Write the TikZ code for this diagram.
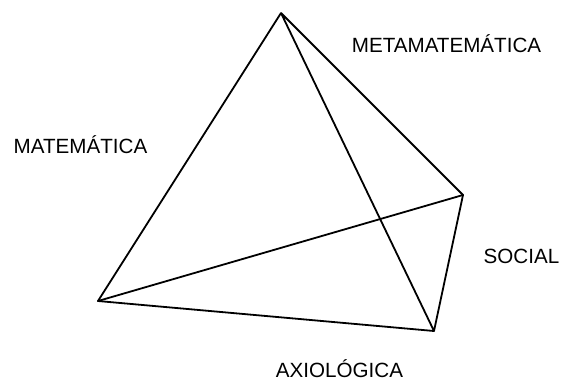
\documentclass[tikz,border=0pt]{standalone}
\usepackage{fontspec}
\setmainfont{Liberation Sans}
\begin{document}
\begin{tikzpicture}[x=1pt,y=-1pt,
  edge/.style={line width=1.8pt,line join=round,line cap=round},
  lab/.style={font=\fontsize{20.6}{24}\selectfont,inner sep=0pt,anchor=base}]
\useasboundingbox (0,0) rectangle (563,381);
\coordinate (T) at (281,13);
\coordinate (R) at (463,195);
\coordinate (L) at (98,301);
\coordinate (B) at (434,331);
\draw[edge] (T) -- (L) -- (B) -- (R) -- (T) -- (B);
\draw[edge] (L) -- (R);
\node[lab] (meta) at (446.5,52) {METAMATEMÁTICA};
\node[lab] (mat) at (80.5,153) {MATEMÁTICA};
\node[lab] (soc) at (521.5,263) {SOCIAL};
\node[lab] (axi) at (339.5,377) {AXIOLÓGICA};
\end{tikzpicture}
\end{document}
